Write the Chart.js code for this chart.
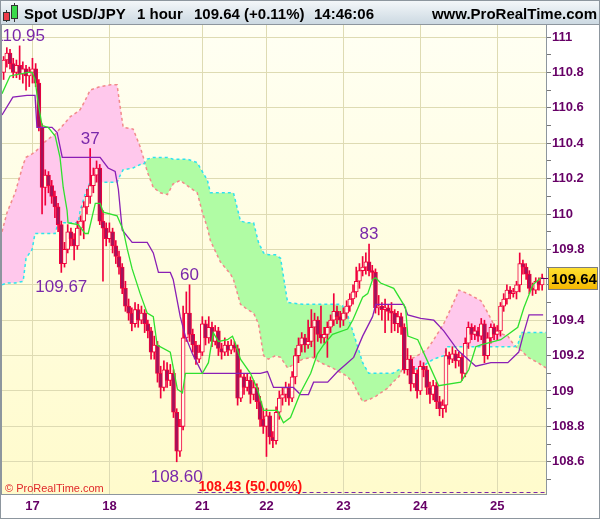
<!DOCTYPE html>
<html>
<head>
<meta charset="utf-8">
<title>Spot USD/JPY 1 hour</title>
<script src="https://cdn.jsdelivr.net/npm/chart.js@4.4.0/dist/chart.umd.min.js"></script>
<style>
  html, body { margin: 0; padding: 0; background: #fff; }
  #wrap { width: 600px; height: 519px; }
</style>
</head>
<body>
<div id="wrap"><canvas id="chart" width="600" height="519"></canvas></div>
<script>
// hourly candles, index 0 = first bar on the 17th
const opens = [
  110.80, 110.87, 110.91, 110.85, 110.80, 110.84, 110.79, 110.82, 110.78, 110.80, 110.82, 110.74,
  110.49, 110.15, 110.22, 110.16, 110.10, 110.04, 109.94, 109.72, 109.80, 109.90, 109.86, 109.82,
  109.92, 109.96, 110.04, 110.10, 110.16, 110.22, 110.26, 109.96, 109.92, 109.86, 109.90, 109.82,
  109.76, 109.70, 109.58, 109.48, 109.44, 109.38, 109.46, 109.40, 109.44, 109.38, 109.34, 109.22,
  109.26, 109.10, 109.02, 109.12, 109.06, 109.10, 108.88, 108.66, 108.80, 109.30, 109.44, 109.32,
  109.26, 109.18, 109.22, 109.38, 109.30, 109.36, 109.28, 109.34, 109.24, 109.22, 109.26, 109.23,
  109.26, 109.24, 108.96, 109.08, 109.02, 109.06, 108.98, 109.02, 108.94, 108.84, 108.80, 108.86,
  108.74, 108.72, 108.88, 108.96, 108.98, 109.02, 108.96, 109.08, 109.20, 109.26, 109.30, 109.26,
  109.28, 109.36, 109.40, 109.32, 109.30, 109.32, 109.36, 109.40, 109.45, 109.42, 109.40, 109.44,
  109.48, 109.52, 109.56, 109.62, 109.68, 109.70, 109.73, 109.68, 109.67, 109.47, 109.48, 109.46,
  109.47, 109.45, 109.44, 109.38, 109.42, 109.36, 109.12, 109.18, 109.04, 109.10, 109.00, 109.14,
  109.12, 109.02, 108.98, 109.03, 108.94, 108.90, 108.92, 109.20, 109.18, 109.21, 109.17, 109.19,
  109.10, 109.27, 109.36, 109.32, 109.34, 109.31, 109.38, 109.20, 109.30, 109.36, 109.32, 109.34,
  109.48, 109.52, 109.57, 109.55, 109.56, 109.60, 109.72, 109.70, 109.66, 109.58, 109.57, 109.62, 109.60
];
const highs = [
  110.89, 110.94, 110.93, 110.88, 110.87, 110.95, 110.86, 110.84, 110.83, 110.88, 110.85, 110.76,
  110.51, 110.25, 110.24, 110.19, 110.13, 110.06, 109.96, 109.84, 109.94, 109.92, 109.89, 109.96,
  109.99, 110.07, 110.14, 110.37, 110.26, 110.30, 110.28, 110.02, 109.95, 109.95, 109.92, 109.85,
  109.79, 109.72, 109.62, 109.52, 109.47, 109.50, 109.49, 109.48, 109.46, 109.40, 109.36, 109.31,
  109.28, 109.14, 109.17, 109.16, 109.15, 109.12, 108.90, 108.84, 109.48, 109.56, 109.60, 109.35,
  109.28, 109.26, 109.42, 109.40, 109.42, 109.39, 109.37, 109.36, 109.27, 109.30, 109.28, 109.29,
  109.28, 109.26, 109.12, 109.10, 109.10, 109.08, 109.06, 109.04, 108.97, 108.90, 108.90, 108.88,
  108.77, 108.91, 109.00, 109.02, 109.05, 109.04, 109.11, 109.24, 109.30, 109.33, 109.32, 109.40,
  109.46, 109.44, 109.42, 109.48, 109.36, 109.39, 109.43, 109.55, 109.48, 109.45, 109.47, 109.51,
  109.55, 109.60, 109.70, 109.72, 109.76, 109.78, 109.83, 109.71, 109.69, 109.54, 109.50, 109.52,
  109.49, 109.50, 109.46, 109.45, 109.44, 109.38, 109.24, 109.20, 109.14, 109.12, 109.17, 109.16,
  109.14, 109.05, 109.06, 109.05, 108.97, 108.95, 109.24, 109.22, 109.25, 109.23, 109.22, 109.21,
  109.30, 109.39, 109.38, 109.37, 109.36, 109.41, 109.40, 109.33, 109.38, 109.38, 109.37, 109.50,
  109.55, 109.60, 109.59, 109.58, 109.62, 109.78, 109.74, 109.72, 109.68, 109.61, 109.64, 109.64, 109.66
];
const lows = [
  110.76, 110.83, 110.82, 110.77, 110.77, 110.76, 110.74, 110.70, 110.72, 110.74, 110.72, 110.47,
  110.00, 110.05, 110.12, 110.06, 109.98, 109.90, 109.67, 109.70, 109.78, 109.82, 109.74, 109.80,
  109.88, 109.86, 110.00, 110.06, 110.12, 110.18, 109.94, 109.62, 109.82, 109.84, 109.78, 109.72,
  109.66, 109.55, 109.45, 109.40, 109.34, 109.36, 109.36, 109.38, 109.33, 109.30, 109.18, 109.18,
  109.05, 108.96, 109.00, 109.02, 109.03, 108.85, 108.60, 108.63, 108.78, 109.28, 109.28, 109.22,
  109.15, 109.16, 109.20, 109.26, 109.27, 109.25, 109.26, 109.20, 109.18, 109.20, 109.20, 109.21,
  109.22, 108.92, 108.94, 108.98, 109.00, 108.93, 108.95, 108.90, 108.80, 108.76, 108.63, 108.70,
  108.68, 108.70, 108.84, 108.92, 108.94, 108.92, 108.94, 109.04, 109.16, 109.22, 109.22, 109.24,
  109.25, 109.19, 109.28, 109.27, 109.27, 109.19, 109.33, 109.37, 109.38, 109.36, 109.37, 109.41,
  109.45, 109.49, 109.53, 109.58, 109.65, 109.66, 109.65, 109.63, 109.44, 109.43, 109.40, 109.33,
  109.40, 109.33, 109.34, 109.33, 109.32, 109.10, 109.09, 109.00, 109.02, 108.96, 108.98, 109.08,
  108.98, 108.93, 108.95, 108.90, 108.86, 108.85, 108.88, 109.15, 109.16, 109.13, 109.14, 109.06,
  109.08, 109.24, 109.29, 109.29, 109.28, 109.29, 109.16, 109.18, 109.27, 109.29, 109.29, 109.31,
  109.45, 109.49, 109.52, 109.53, 109.52, 109.56, 109.66, 109.63, 109.55, 109.54, 109.55, 109.57, 109.57
];
const closes = [
  110.87, 110.91, 110.85, 110.80, 110.84, 110.79, 110.82, 110.78, 110.80, 110.82, 110.74, 110.49,
  110.15, 110.22, 110.16, 110.10, 110.04, 109.94, 109.72, 109.80, 109.90, 109.86, 109.82, 109.92,
  109.96, 110.04, 110.10, 110.16, 110.22, 110.26, 109.96, 109.92, 109.86, 109.90, 109.82, 109.76,
  109.70, 109.58, 109.48, 109.44, 109.38, 109.46, 109.40, 109.44, 109.38, 109.34, 109.22, 109.26,
  109.10, 109.02, 109.12, 109.06, 109.10, 108.88, 108.66, 108.80, 109.30, 109.44, 109.32, 109.26,
  109.18, 109.22, 109.38, 109.30, 109.36, 109.28, 109.34, 109.24, 109.22, 109.26, 109.23, 109.26,
  109.24, 108.96, 109.08, 109.02, 109.06, 108.98, 109.02, 108.94, 108.84, 108.80, 108.86, 108.74,
  108.72, 108.88, 108.96, 108.98, 109.02, 108.96, 109.08, 109.20, 109.26, 109.30, 109.26, 109.28,
  109.36, 109.40, 109.32, 109.30, 109.32, 109.36, 109.40, 109.45, 109.42, 109.40, 109.44, 109.48,
  109.52, 109.56, 109.62, 109.68, 109.70, 109.73, 109.68, 109.67, 109.47, 109.48, 109.46, 109.47,
  109.45, 109.44, 109.38, 109.42, 109.36, 109.12, 109.18, 109.04, 109.10, 109.00, 109.14, 109.12,
  109.02, 108.98, 109.03, 108.94, 108.90, 108.92, 109.20, 109.18, 109.21, 109.17, 109.19, 109.10,
  109.27, 109.36, 109.32, 109.34, 109.31, 109.38, 109.20, 109.30, 109.36, 109.32, 109.34, 109.48,
  109.52, 109.57, 109.55, 109.56, 109.60, 109.72, 109.70, 109.66, 109.58, 109.57, 109.62, 109.60, 109.64
];

// ichimoku lines (vertices: bar index, price)
const tenkanX = [-0.5, 2.0, 7.6, 8.9, 9.8, 10.75, 12.0, 13.9, 16.1, 17.6, 18.6, 19.8, 20.1, 23.3, 25.4, 26.4, 28.6, 30.1,
  31.1, 35.4, 37.3, 38.6, 40.1, 42.6, 44.8, 46.7, 47.9, 52.0, 54.2, 55.8, 56.7, 62.0, 63.9, 65.4, 67.0, 69.8,
  71.4, 72.3, 73.9, 77.0, 79.2, 81.1, 85.4, 87.3, 89.5, 92.6, 95.8, 97.9, 99.8, 102.6, 107.3, 108.9, 112.0, 113.6,
  115.1, 116.1, 117.6, 121.7, 125.4, 126.1, 129.2, 131.7, 135.7, 142.6, 145.1, 147.3, 148.9, 155.1, 160.4, 162.3, 165.1, 167.6];
const tenkanY = [110.68, 110.78, 110.80, 110.80, 110.76, 110.63, 110.50, 110.49, 110.44, 110.32, 110.15, 110.02, 109.95, 109.94, 109.89, 109.89, 110.06, 110.06,
  110.01, 109.99, 109.91, 109.80, 109.69, 109.55, 109.44, 109.42, 109.26, 109.22, 109.01, 108.99, 109.10, 109.10, 109.16, 109.33, 109.28, 109.29,
  109.31, 109.27, 109.18, 109.10, 109.01, 108.89, 108.89, 108.82, 108.85, 108.99, 109.10, 109.21, 109.26, 109.32, 109.35, 109.40, 109.53, 109.55,
  109.63, 109.64, 109.61, 109.58, 109.47, 109.31, 109.29, 109.19, 109.03, 109.05, 109.12, 109.25, 109.26, 109.29, 109.36, 109.47, 109.60, 109.64];

const kijunX = [-0.5, 2.9, 7.3, 9.8, 10.4, 15.1, 16.7, 18.3, 30.1, 32.6, 34.8, 35.8, 37.0, 40.1, 44.8, 46.7, 48.3, 52.0, 52.9, 55.1,
  56.7, 58.9, 62.0, 80.1, 82.3, 84.2, 90.4, 92.6, 95.1, 96.7, 101.1, 104.2, 106.7, 109.2, 112.0, 115.1, 116.1, 124.8, 126.1, 130.1,
  134.2, 137.3, 141.7, 147.3, 152.0, 157.3, 160.7, 162.3, 163.9, 168.3];
const kijunY = [110.56, 110.66, 110.67, 110.67, 110.49, 110.49, 110.46, 110.32, 110.32, 110.26, 110.24, 110.14, 109.91, 109.84, 109.84, 109.78, 109.67, 109.67, 109.63, 109.42,
  109.31, 109.21, 109.10, 109.10, 109.11, 109.02, 109.02, 108.98, 108.98, 109.05, 109.05, 109.11, 109.15, 109.19, 109.31, 109.42, 109.49, 109.49, 109.43, 109.41,
  109.40, 109.34, 109.23, 109.14, 109.16, 109.16, 109.22, 109.33, 109.43, 109.43];

// cloud (senkou span A / B), shifted forward
const cloudX = [-0.5, 1.1, 3.6, 6.1, 7.0, 8.9, 9.8, 13.6, 16.1, 17.0, 20.8, 23.3, 23.9, 25.4, 27.0, 30.1, 33.3, 35.4, 36.4, 37.3,
  40.4, 42.6, 43.6, 44.8, 46.7, 48.9, 51.1, 52.9, 55.1, 57.3, 60.4, 62.0, 63.6, 64.5, 67.6, 70.8, 71.7, 73.9, 76.1, 78.0,
  79.5, 81.1, 82.6, 84.8, 86.4, 88.6, 93.3, 96.4, 98.9, 102.6, 104.5, 105.8, 107.3, 108.9, 110.8, 112.0, 113.9, 116.1, 120.1, 121.4,
  123.3, 124.5, 127.0, 130.1, 132.3, 134.2, 137.3, 138.6, 141.1, 142.0, 144.8, 148.9, 151.1, 154.2, 157.3, 159.2, 160.4, 161.4, 163.6, 166.7, 169.2];
const spanA = [109.60, 109.61, 109.61, 109.62, 109.75, 109.80, 109.89, 109.89, 109.89, 109.95, 109.95, 109.95, 110.02, 110.11, 110.18, 110.18, 110.18, 110.18, 110.22, 110.25,
  110.26, 110.28, 110.28, 110.31, 110.32, 110.32, 110.32, 110.31, 110.31, 110.31, 110.29, 110.24, 110.19, 110.12, 110.12, 110.12, 110.12, 109.96, 109.95, 109.95,
  109.84, 109.78, 109.77, 109.77, 109.75, 109.50, 109.49, 109.49, 109.49, 109.49, 109.49, 109.48, 109.43, 109.34, 109.23, 109.16, 109.10, 109.10, 109.10, 109.10,
  109.12, 109.12, 109.12, 109.13, 109.16, 109.18, 109.20, 109.25, 109.25, 109.25, 109.25, 109.25, 109.25, 109.25, 109.25, 109.25, 109.26, 109.33, 109.33, 109.33, 109.33];
const spanB = [109.90, 110.01, 110.12, 110.28, 110.32, 110.34, 110.35, 110.42, 110.45, 110.47, 110.55, 110.58, 110.59, 110.64, 110.70, 110.72, 110.73, 110.73, 110.60, 110.49,
  110.48, 110.38, 110.32, 110.24, 110.15, 110.12, 110.11, 110.17, 110.19, 110.16, 110.12, 110.01, 109.92, 109.85, 109.73, 109.66, 109.63, 109.49, 109.46, 109.44,
  109.38, 109.20, 109.18, 109.20, 109.19, 109.13, 109.18, 109.19, 109.16, 109.13, 109.11, 109.10, 109.08, 109.05, 108.98, 108.94, 108.95, 108.97, 109.02, 109.05,
  109.08, 109.13, 109.18, 109.21, 109.24, 109.29, 109.38, 109.43, 109.53, 109.57, 109.55, 109.51, 109.44, 109.33, 109.31, 109.26, 109.24, 109.23, 109.19, 109.16, 109.13];

// day separators on the time axis
const dayTicks = [9, 33, 62, 82, 106, 130, 154];
const dayLabels = ['17', '18', '21', '22', '23', '24', '25'];

// swing high / low labels
const markIdx = [5, 27, 18, 58, 54, 114];
const markPrice = [110.95, 110.37, 109.67, 109.60, 108.60, 109.83];
const markText = ['110.95', '37', '109.67', '60', '108.60', '83'];
const markAbove = [true, true, false, true, false, true];

// fibonacci level
const fibPrice = 108.43;
const fibStart = 60.5;
const fibText = '108.43 (50.00%)';

const FONT = '"Liberation Sans", Arial, sans-serif';
const RED = '#f0003c';
const GRID = '#dedbb3';
const AXIS = '#8d969e';

Chart.defaults.font.family = FONT;

function pts(xs, ys) {
  return xs.map((x, i) => ({ x: x, y: ys[i] }));
}

function isMajor(v) {
  return Math.round(v * 10) % 2 === 0;
}

const backdrop = {
  id: 'backdrop',
  beforeDraw(chart) {
    const { ctx, chartArea: a } = chart;
    ctx.save();
    ctx.fillStyle = '#ffffff';
    ctx.fillRect(0, 0, chart.width, chart.height);
    const g = ctx.createLinearGradient(0, a.top, 0, a.bottom);
    g.addColorStop(0, '#fffff3');
    g.addColorStop(1, '#fffbcc');
    ctx.fillStyle = g;
    ctx.fillRect(a.left, a.top, a.right - a.left, a.bottom - a.top);
    ctx.restore();
  }
};

const notes = {
  id: 'notes',
  afterDatasetsDraw(chart) {
    const { ctx, chartArea: a, scales } = chart;
    const x = scales.x, y = scales.y;
    ctx.save();
    ctx.beginPath();
    ctx.rect(a.left, a.top, a.right - a.left, a.bottom - a.top);
    ctx.clip();

    // highs / lows
    ctx.font = '17px ' + FONT;
    ctx.fillStyle = '#7a28aa';
    ctx.textAlign = 'center';
    ctx.textBaseline = 'alphabetic';
    markIdx.forEach((idx, k) => {
      const px = x.getPixelForValue(idx);
      const py = y.getPixelForValue(markPrice[k]);
      ctx.fillText(markText[k], px, markAbove[k] ? py - 5 : py + 20);
    });

    // fib line
    const fy = Math.round(y.getPixelForValue(fibPrice)) + 0.5;
    ctx.strokeStyle = '#7a28aa';
    ctx.lineWidth = 1;
    ctx.setLineDash([4, 3]);
    ctx.beginPath();
    ctx.moveTo(x.getPixelForValue(fibStart), fy);
    ctx.lineTo(a.right, fy);
    ctx.stroke();
    ctx.setLineDash([]);
    ctx.font = 'bold 14px ' + FONT;
    ctx.fillStyle = '#ff1010';
    ctx.textAlign = 'left';
    ctx.fillText(fibText, x.getPixelForValue(fibStart) + 1, fy - 2);

    ctx.font = '11px ' + FONT;
    ctx.fillStyle = '#e0282a';
    ctx.fillText('\u00a9 ProRealTime.com', a.left + 3, a.bottom - 2);
    ctx.restore();
  },
  afterDraw(chart) {
    const { ctx, chartArea: a, scales } = chart;
    const w = chart.width;
    ctx.save();

    // header strip
    const g = ctx.createLinearGradient(0, 0, 0, 24);
    g.addColorStop(0, '#f5f8fa');
    g.addColorStop(1, '#ccd9e2');
    ctx.fillStyle = g;
    ctx.fillRect(0, 0, w, 24);
    ctx.fillStyle = AXIS;
    ctx.fillRect(0, 24, w, 1);

    // little candle icon
    ctx.strokeStyle = '#333';
    ctx.lineWidth = 1;
    ctx.beginPath();
    ctx.moveTo(6.5, 10); ctx.lineTo(6.5, 22);
    ctx.moveTo(14.5, 3); ctx.lineTo(14.5, 22);
    ctx.stroke();
    ctx.fillStyle = '#ee3b4a';
    ctx.fillRect(3.5, 12.5, 6, 8);
    ctx.strokeRect(3.5, 12.5, 6, 8);
    ctx.fillStyle = '#3ad94a';
    ctx.fillRect(11.5, 5.5, 6, 13);
    ctx.strokeRect(11.5, 5.5, 6, 13);

    ctx.font = 'bold 15px ' + FONT;
    ctx.fillStyle = '#000';
    ctx.textBaseline = 'alphabetic';
    ctx.textAlign = 'left';
    ctx.fillText('Spot USD/JPY', 24, 19);
    ctx.fillText('1 hour', 137, 19);
    ctx.fillText('109.64 (+0.11%)', 194, 19);
    ctx.fillText('14:46:06', 314, 19);
    ctx.textAlign = 'right';
    ctx.fillText('www.ProRealTime.com', 597, 19);

    // frame
    ctx.strokeStyle = AXIS;
    ctx.strokeRect(a.left - 0.5, a.top - 0.5, a.right - a.left + 1, a.bottom - a.top + 1);
    ctx.strokeRect(0.5, 0.5, w - 1, chart.height - 1);

    // last price tag
    const last = closes[closes.length - 1];
    const py = Math.round(scales.y.getPixelForValue(last));
    ctx.strokeStyle = '#660066';
    ctx.beginPath();
    ctx.moveTo(a.right - 5, py + 0.5);
    ctx.lineTo(a.right + 3, py + 0.5);
    ctx.stroke();
    const bg = ctx.createLinearGradient(0, py - 11, 0, py + 11);
    bg.addColorStop(0, '#ffe233');
    bg.addColorStop(1, '#f5b800');
    ctx.fillStyle = bg;
    ctx.fillRect(548.5, py - 10.5, 49, 22);
    ctx.strokeStyle = '#7d7d7d';
    ctx.strokeRect(548.5, py - 10.5, 49, 22);
    ctx.font = 'bold 15px ' + FONT;
    ctx.fillStyle = '#000';
    ctx.textAlign = 'left';
    ctx.fillText(last.toFixed(2), 551, py + 6);
    ctx.restore();
  }
};

const ctx = document.getElementById('chart').getContext('2d');
const chart = new Chart(ctx, {
  type: 'bar',
  data: {
    datasets: [
      {
        type: 'line', label: 'Tenkan', data: pts(tenkanX, tenkanY),
        borderColor: '#2fe02f', borderWidth: 1.3, pointRadius: 0, fill: false, order: 0
      },
      {
        type: 'line', label: 'Kijun', data: pts(kijunX, kijunY),
        borderColor: '#8a1fb5', borderWidth: 1.3, pointRadius: 0, fill: false, order: 1
      },
      {
        type: 'bar', label: 'Body',
        data: closes.map((c, i) => ({ x: i, y: [opens[i], c] })),
        backgroundColor: c => closes[c.dataIndex] >= opens[c.dataIndex] ? '#fffbe6' : '#a3135a',
        borderColor: RED, borderWidth: 1, borderSkipped: false,
        barThickness: 4, grouped: false, order: 2
      },
      {
        type: 'bar', label: 'Wick',
        data: highs.map((h, i) => ({ x: i, y: [lows[i], h] })),
        backgroundColor: RED, borderWidth: 0,
        barThickness: 1, grouped: false, order: 3
      },
      {
        type: 'line', label: 'Span B', data: pts(cloudX, spanB),
        borderColor: '#f28a8a', borderWidth: 1.5, borderDash: [3, 3], pointRadius: 0,
        fill: { target: '+1', above: '#ffc8ec', below: '#b0fca4' }, order: 5
      },
      {
        type: 'line', label: 'Span A', data: pts(cloudX, spanA),
        borderColor: '#2ee3ee', borderWidth: 1.5, borderDash: [3, 3], pointRadius: 0,
        fill: false, order: 4
      }
    ]
  },
  options: {
    responsive: false,
    animation: false,
    layout: { padding: { top: 25, left: 2, right: 0, bottom: 0 } },
    plugins: { legend: { display: false }, tooltip: { enabled: false } },
    scales: {
      x: {
        type: 'linear', min: -0.5, max: 169.2, offset: false,
        afterBuildTicks: s => { s.ticks = dayTicks.map(v => ({ value: v })); },
        afterFit: s => { s.height = 25; },
        ticks: {
          autoSkip: false, maxRotation: 0, padding: 5,
          color: '#660066', font: { size: 13, weight: 'bold' },
          callback: v => { const k = dayTicks.indexOf(v); return k >= 0 ? dayLabels[k] : ''; }
        },
        grid: { color: GRID, offset: false, drawTicks: false },
        border: { color: AXIS }
      },
      y: {
        position: 'right', min: 108.418, max: 111.068,
        afterFit: s => { s.width = 54; },
        ticks: {
          stepSize: 0.1, includeBounds: false, autoSkip: false, padding: 1,
          color: '#660066', font: { size: 13, weight: 'bold' },
          callback: v => isMajor(v) ? String(Math.round(v * 10) / 10) : ''
        },
        grid: {
          color: c => (c.tick && isMajor(c.tick.value)) ? GRID : 'rgba(0,0,0,0)',
          tickColor: '#777', tickLength: 5
        },
        border: { color: AXIS }
      }
    }
  },
  plugins: [backdrop, notes]
});
</script>
</body>
</html>
